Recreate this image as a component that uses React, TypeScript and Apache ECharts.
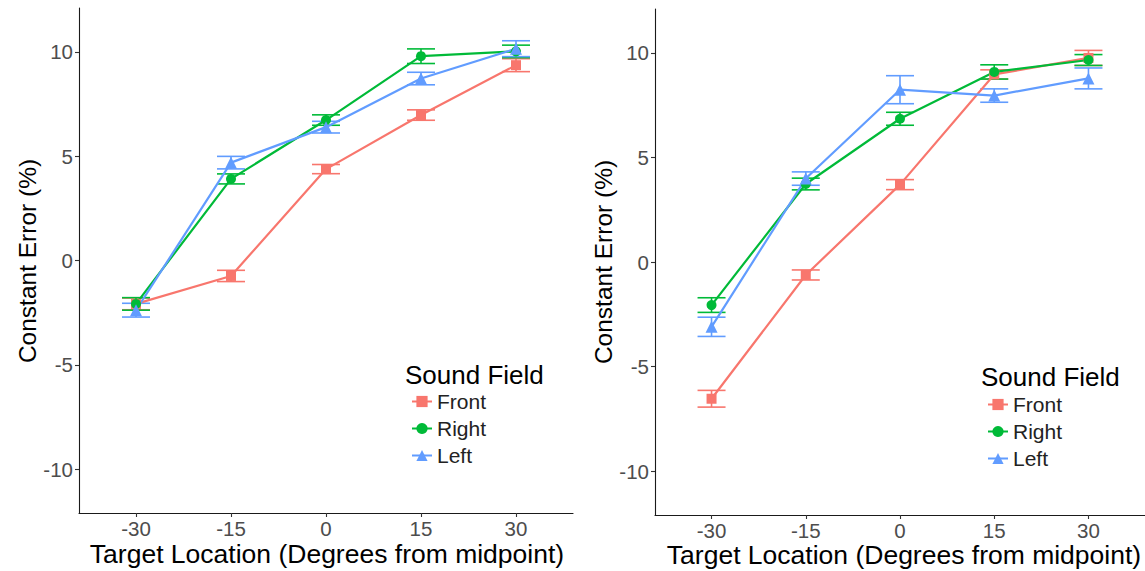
import React, { useEffect, useRef } from 'react';
import * as echarts from 'echarts';

const targetLocations = [-30, -15, 0, 15, 30];
const yTicks = [-10, -5, 0, 5, 10];
const groups = ['Front', 'Right', 'Left'];
const groupColors = ['#F8766D', '#00BA38', '#619CFF'];
const groupSymbols = ['rect', 'circle', 'triangle'];
const groupSymbolSizes = [10, 10, 12];

// Panel A (left)
const frontMeanA = [-2.08, -0.74, 4.38, 6.97, 9.36];
const frontSeA = [0.28, 0.27, 0.22, 0.25, 0.31];
const rightMeanA = [-2.08, 3.91, 6.73, 9.79, 10.02];
const rightSeA = [0.3, 0.24, 0.25, 0.35, 0.3];
const leftMeanA = [-2.38, 4.69, 6.39, 8.72, 10.15];
const leftSeA = [0.33, 0.3, 0.28, 0.3, 0.38];

// Panel B (right)
const frontMeanB = [-6.54, -0.62, 3.7, 8.97, 9.76];
const frontSeB = [0.4, 0.24, 0.24, 0.22, 0.36];
const rightMeanB = [-2.06, 3.73, 6.85, 9.09, 9.66];
const rightSeB = [0.35, 0.28, 0.31, 0.34, 0.26];
const leftMeanB = [-3.1, 3.99, 8.24, 7.96, 8.78];
const leftSeB = [0.46, 0.32, 0.67, 0.32, 0.5];

const meansA = [frontMeanA, rightMeanA, leftMeanA];
const sesA = [frontSeA, rightSeA, leftSeA];
const meansB = [frontMeanB, rightMeanB, leftMeanB];
const sesB = [frontSeB, rightSeB, leftSeB];

const xTitle = 'Target Location (Degrees from midpoint)';
const yTitle = 'Constant Error (%)';
const legendTitle = 'Sound Field';

const FONT = '"Liberation Sans", Arial, sans-serif';

export default function App() {
  const ref = useRef<HTMLDivElement>(null);
  useEffect(() => {
    if (!ref.current) return;
    const chart = echarts.init(ref.current, null, { renderer: 'svg' });

    const grids = [
      { left: 79, top: 8, width: 494, height: 505 },
      { left: 655, top: 9, width: 497, height: 506 },
    ];

    const makeX = (gi: number) => ({
      type: 'value',
      gridIndex: gi,
      min: -39,
      max: 39,
      axisLine: { show: true, onZero: false, lineStyle: { color: '#1a1a1a', width: 1.1 } },
      axisTick: { show: true, customValues: targetLocations, length: 4, lineStyle: { color: '#333', width: 1.1 } },
      axisLabel: { customValues: targetLocations, color: '#4D4D4D', fontSize: 20.5, fontFamily: FONT, margin: 5 },
      splitLine: { show: false },
    });
    const makeY = (gi: number) => ({
      type: 'value',
      gridIndex: gi,
      min: -12.1,
      max: 12.1,
      axisLine: { show: true, onZero: false, lineStyle: { color: '#1a1a1a', width: 1.1 } },
      axisTick: { show: true, customValues: yTicks, length: 4, lineStyle: { color: '#333', width: 1.1 } },
      axisLabel: { customValues: yTicks, color: '#4D4D4D', fontSize: 20.5, fontFamily: FONT, margin: 6 },
      splitLine: { show: false },
    });

    const series: any[] = [];
    const panels = [
      { means: meansA, ses: sesA },
      { means: meansB, ses: sesB },
    ];
    panels.forEach((p, pi) => {
      groups.forEach((g, gi) => {
        const color = groupColors[gi];
        series.push({
          type: 'custom',
          name: g + ' error ' + pi,
          xAxisIndex: pi,
          yAxisIndex: pi,
          z: 2,
          silent: true,
          encode: { x: 0, y: [1, 2] },
          data: targetLocations.map((x, i) => [x, p.means[gi][i] - p.ses[gi][i], p.means[gi][i] + p.ses[gi][i]]),
          renderItem: (params: any, api: any) => {
            const x = api.value(0);
            const lo = api.value(1);
            const hi = api.value(2);
            const top = api.coord([x, hi]);
            const bot = api.coord([x, lo]);
            const hw = 14;
            const style = { stroke: color, lineWidth: 1.6, fill: null };
            return {
              type: 'group',
              children: [
                { type: 'line', shape: { x1: top[0], y1: top[1], x2: bot[0], y2: bot[1] }, style },
                { type: 'line', shape: { x1: top[0] - hw, y1: top[1], x2: top[0] + hw, y2: top[1] }, style },
                { type: 'line', shape: { x1: bot[0] - hw, y1: bot[1], x2: bot[0] + hw, y2: bot[1] }, style },
              ],
            };
          },
        });
        series.push({
          type: 'line',
          name: g,
          xAxisIndex: pi,
          yAxisIndex: pi,
          z: 3,
          symbol: groupSymbols[gi],
          symbolSize: groupSymbolSizes[gi],
          showAllSymbol: true,
          lineStyle: { color, width: 2.2 },
          itemStyle: { color },
          data: targetLocations.map((x, i) => [x, p.means[gi][i]]),
        });
      });
    });

    const legendCommon = {
      orient: 'vertical',
      data: groups,
      itemWidth: 20,
      itemHeight: 14,
      itemGap: 6,
      selectedMode: false,
      textStyle: { fontSize: 21, fontFamily: FONT, color: '#222', lineHeight: 21 },
    };

    const titleText = (x: number, y: number, text: string, size: number, rotate = 0, align = 'center') => ({
      type: 'text',
      x,
      y,
      rotation: rotate,
      style: {
        text,
        fontSize: size,
        fontFamily: FONT,
        fill: '#000',
        align,
        verticalAlign: 'middle',
      },
    });

    chart.setOption({
      animation: false,
      backgroundColor: '#fff',
      grid: grids,
      xAxis: [makeX(0), makeX(1)],
      yAxis: [makeY(0), makeY(1)],
      legend: [
        { ...legendCommon, left: 406, top: 386 },
        { ...legendCommon, left: 982, top: 389 },
      ],
      graphic: [
        titleText(327, 554, xTitle, 26.5),
        titleText(904, 555, xTitle, 26.5),
        titleText(27, 261, yTitle, 24.5, Math.PI / 2),
        titleText(603, 262, yTitle, 24.5, Math.PI / 2),
        titleText(405, 375, legendTitle, 26, 0, 'left'),
        titleText(981, 377, legendTitle, 26, 0, 'left'),
      ],
      series,
    });
    return () => chart.dispose();
  }, []);
  return <div ref={ref} style={{ position: 'fixed', left: 0, top: 0, width: 1145, height: 571 }} />;
}
